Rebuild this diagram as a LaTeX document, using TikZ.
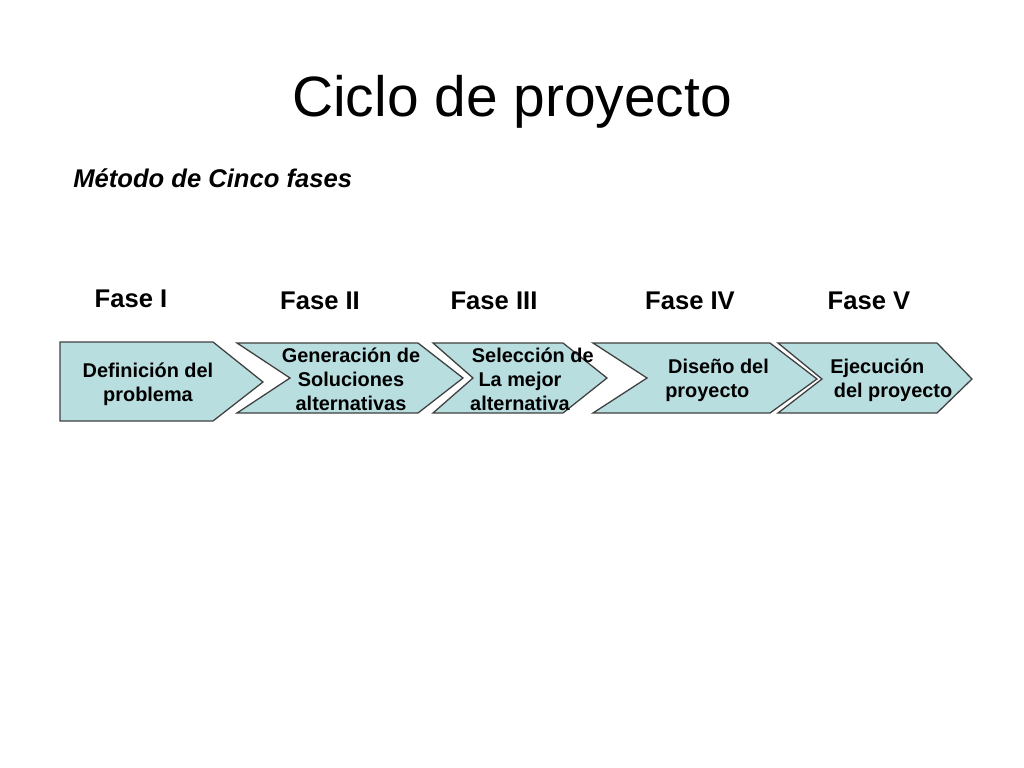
\documentclass[tikz,border=0pt]{standalone}
\usepackage{fontspec}
\setmainfont{Liberation Sans}
\usepackage{tikz}
\usetikzlibrary{positioning}

\begin{document}
\begin{tikzpicture}[x=0.703125pt,y=-0.703125pt,
  fase/.style={draw=black!75,line width=0.9pt,fill={rgb,255:red,185;green,222;blue,224}},
  fasetext/.style={inner sep=0pt,font=\bfseries\fontsize{14}{16.8}\selectfont},
  faselabel/.style={anchor=base,inner sep=0pt,font=\bfseries\fontsize{18}{21}\selectfont}]
\useasboundingbox (0,0) rectangle (1024,768);
\node[anchor=base,inner sep=0pt,font=\fontsize{40}{48}\selectfont] (titulo) at (512,117) {Ciclo de proyecto};
\node[anchor=base west,inner sep=0pt,font=\bfseries\itshape\fontsize{18}{21}\selectfont] (metodo) at (73,188) {Método de Cinco fases};
% fases
\node[faselabel] (f1) at (131,308) {Fase I};
\node[faselabel] (f2) at (320,310) {Fase II};
\node[faselabel] (f3) at (494,310) {Fase III};
\node[faselabel] (f4) at (690,310) {Fase IV};
\node[faselabel] (f5) at (869,310) {Fase V};
% flechas
\filldraw[fase] (60,342) -- (213,342) -- (263,382) -- (213,421) -- (60,421) -- cycle;
\filldraw[fase] (237,343) -- (418,343) -- (463,378) -- (418,413) -- (237,413) -- (290,378) -- cycle;
\filldraw[fase] (433,343) -- (563,343) -- (607,378) -- (563,413) -- (433,413) -- (473,378) -- cycle;
\filldraw[fase] (593,343) -- (770,343) -- (817,379) -- (770,413) -- (593,413) -- (647,378) -- cycle;
\filldraw[fase] (778,343) -- (937,343) -- (972,379) -- (937,413) -- (778,413) -- (822,379) -- cycle;
% textos
\node[fasetext,align=center] (t1) at (148,384) {Definición del\\problema};
\node[fasetext,align=center] (t2) at (351,379) {Generación de\\Soluciones\\alternativas};
\node[fasetext,align=center] (t3) at (520,379) {\hspace*{18pt}Selección de\\La mejor\\alternativa};
\node[fasetext,align=left,anchor=west] (t4) at (665,380) {\hspace*{2pt}Diseño del\\proyecto};
\node[fasetext,align=left,anchor=west] (t5) at (830,380) {Ejecución\\\hspace*{2.5pt}del proyecto};
\end{tikzpicture}
\end{document}
